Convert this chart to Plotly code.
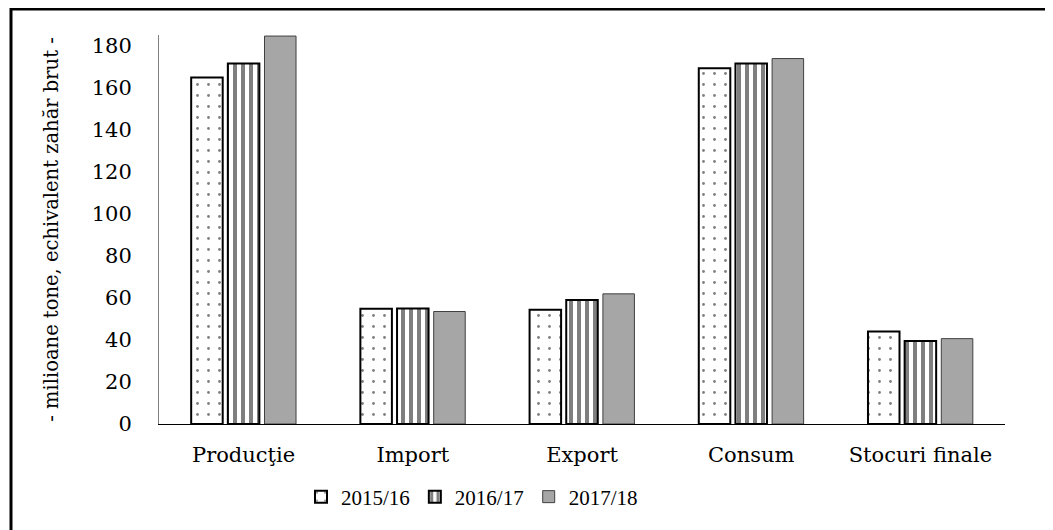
import plotly.graph_objects as go

categories = ["Producţie", "Import", "Export", "Consum", "Stocuri finale"]
series_names = ["2015/16", "2016/17", "2017/18"]
v_2015 = [164.8, 54.8, 54.3, 169.2, 44.0]
v_2016 = [171.4, 54.9, 59.0, 171.4, 39.5]
v_2017 = [184.5, 53.5, 61.9, 173.8, 40.6]
y_ticks = [0, 20, 40, 60, 80, 100, 120, 140, 160, 180]
y_title = "- milioane tone, echivalent zahăr brut -"

FONT = "DejaVu Serif"
LFONT = "Liberation Serif"
FS = 21

# page body has an 8px offset; target pixel coords are page coords
OFF = 8
W, H = 1053, 530
ml, mt = 159 - OFF, 35 - OFF
pw, ph = 846, 389
mr = W - ml - pw
mb = H - mt - ph

def px_x(x):
    return (x - OFF - ml) / pw

def px_y(y):
    return (H - mb - (y - OFF)) / ph

fig = go.Figure()
fig.add_trace(go.Bar(
    name=series_names[0], x=categories, y=v_2015,
    marker=dict(color="white", line=dict(color="black", width=2),
                pattern=dict(shape=".", fgcolor="black", bgcolor="white", size=11, solidity=0.05)),
))
fig.add_trace(go.Bar(
    name=series_names[1], x=categories, y=v_2016,
    marker=dict(color="white", line=dict(color="black", width=2),
                pattern=dict(shape="|", fgcolor="black", bgcolor="white", size=8, solidity=0.5)),
))
fig.add_trace(go.Bar(
    name=series_names[2], x=categories, y=v_2017,
    marker=dict(color="#a6a6a6", line=dict(color="#404040", width=1)),
))

fig.add_shape(type="rect", xref="paper", yref="paper",
              x0=px_x(11), x1=px_x(1120), y0=px_y(600), y1=px_y(9),
              line=dict(color="black", width=3), fillcolor="rgba(0,0,0,0)", layer="below")

fig.update_layout(
    width=W, height=H,
    margin=dict(l=ml, r=mr, t=mt, b=mb, autoexpand=False),
    paper_bgcolor="white", plot_bgcolor="white",
    barmode="group", bargap=0.35, bargroupgap=0.14,
    font=dict(family=FONT, size=FS, color="black"),
    showlegend=True,
    legend=dict(orientation="h", x=px_x(472), xanchor="center", y=px_y(497), yanchor="middle",
                font=dict(family=LFONT, size=21, color="black"),
                itemwidth=30, tracegroupgap=0, traceorder="normal"),
    xaxis=dict(showline=True, linecolor="black", linewidth=1, ticks="", showgrid=False,
               tickfont=dict(family=FONT, size=FS, color="black"), ticklabelstandoff=12),
    yaxis=dict(range=[0, 185], tickvals=y_ticks, showline=True, linecolor="#7f7f7f", linewidth=1,
               ticks="", showgrid=False, zeroline=False,
               tickfont=dict(family=FONT, size=FS, color="black"), ticklabelstandoff=22,
               title=dict(text=y_title, font=dict(family=FONT, size=19.5, color="black"), standoff=27)),
)

fig.write_html("out.html")
